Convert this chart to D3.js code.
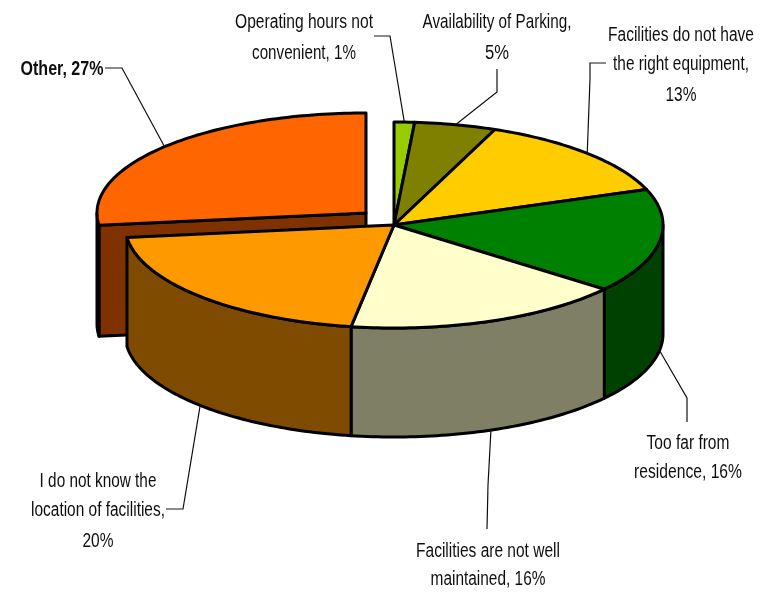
<!DOCTYPE html>
<html>
<head>
<meta charset="utf-8">
<style>html,body{margin:0;padding:0;background:#fff}svg{display:block}</style>
<script src="https://cdn.jsdelivr.net/npm/d3@7"></script>
</head>
<body>
<svg id="chart" width="775" height="592"></svg>
<script>
const categories = ["Operating hours not convenient","Availability of Parking","Facilities do not have the right equipment","Too far from residence","Facilities are not well maintained","I do not know the location of facilities","Other"];
const values = [1.2,4.8,13,16,16.5,20.1,26.4];
const percentLabels = ["1%","5%","13%","16%","16%","20%","27%"];
const labelLines = [
  ["Operating hours not","convenient, 1%"],
  ["Availability of Parking,","5%"],
  ["Facilities do not have","the right equipment,","13%"],
  ["Too far from","residence, 16%"],
  ["Facilities are not well","maintained, 16%"],
  ["I do not know the","location of facilities,","20%"],
  ["Other, 27%"]
];
const topColors = ["#99cc00","#808000","#ffcc00","#008000","#ffffcc","#ff9900","#ff6600"];
const sideColors = ["#4c6600","#404000","#7f6600","#004000","#7f7f66","#7f4c00","#7f3300"];

// layout
const G = {cx:394, cy:225, rx:269, ry:103, depth:109};
const E = {cx:366, cy:213, rx:269, ry:100, depth:111};
const explodedIndex = 6;
const labelLayout = [
  {x:304, ys:[28,59], ws:[138,104], elbows:[[390,36],[374,36]]},
  {x:497, ys:[28,59], ws:[149,24], elbows:[[497,92],[497,69]]},
  {x:681, ys:[41,70,101], ws:[146,136,31], elbows:[[590,79],[590,63],[606,63]]},
  {x:688, ys:[449,478], ws:[83,108], elbows:[[687,398],[687,422]]},
  {x:488, ys:[557,585], ws:[144,115], elbows:[[488,485],[487,529]]},
  {x:98,  ys:[487,516,547], ws:[117,134,31], elbows:[[183,509],[166,509]]},
  {x:62,  ys:[75], ws:[83], elbows:[[122,68],[105,68]], bold:true}
];

const svg = d3.select("#chart");
const defs = svg.append("defs");
defs.append("filter").attr("id","soft").append("feGaussianBlur").attr("stdDeviation",0.45);
const root = svg.append("g").attr("filter","url(#soft)");

const arcs = d3.pie().sort(null).value(d=>d)(values);
const xS = g => d3.scaleLinear().domain([-1,1]).range([g.cx-g.rx,g.cx+g.rx]);
const yS = g => d3.scaleLinear().domain([-1,1]).range([g.cy-g.ry,g.cy+g.ry]);
const pt = (g,a,dz=0) => [xS(g)(Math.sin(a)), yS(g)(-Math.cos(a))+dz];
const samples = (a0,a1) => { const n=Math.max(2,Math.ceil((a1-a0)/0.02)); return d3.range(n+1).map(i=>a0+(a1-a0)*i/n); };
const line = d3.line();

function topPath(g,d){
  const pts = samples(d.startAngle,d.endAngle).map(a=>pt(g,a));
  return line([[g.cx,g.cy],...pts])+"Z";
}
function sidePath(g,a0,a1){
  const s = samples(a0,a1);
  const upper = s.map(a=>pt(g,a));
  const lower = s.slice().reverse().map(a=>pt(g,a,g.depth));
  return line([...upper,...lower])+"Z";
}
const edge = sel => sel.attr("stroke","#000").attr("stroke-width",3).attr("stroke-linejoin","round");

// exploded slice
const ex = arcs[explodedIndex];
const eStart = pt(E,ex.startAngle);
edge(root.append("path")
  .attr("d",line([[E.cx,E.cy],eStart,[eStart[0],eStart[1]+E.depth],[E.cx,E.cy+E.depth]])+"Z")
  .attr("fill",sideColors[explodedIndex]));
edge(root.append("path").attr("d",sidePath(E,ex.startAngle,Math.min(ex.endAngle,1.5*Math.PI))).attr("fill",sideColors[explodedIndex]));
edge(root.append("path").attr("d",topPath(E,ex)).attr("fill",topColors[explodedIndex]));

// main pie sides (front half only)
arcs.forEach((d,i)=>{
  if(i===explodedIndex) return;
  const a0=Math.max(d.startAngle,Math.PI/2), a1=Math.min(d.endAngle,1.5*Math.PI);
  if(a1<=a0) return;
  edge(root.append("path").attr("d",sidePath(G,a0,a1)).attr("fill",sideColors[i]));
});
// main pie tops
arcs.forEach((d,i)=>{
  if(i===explodedIndex) return;
  edge(root.append("path").attr("d",topPath(G,d)).attr("fill",topColors[i]));
});

// leaders
arcs.forEach((d,i)=>{
  const g = i===explodedIndex?E:G;
  const mid=(d.startAngle+d.endAngle)/2;
  const front=Math.cos(mid)<0;
  const start=pt(g,mid,front?g.depth:0);
  root.append("path").attr("d",line([start,...labelLayout[i].elbows]))
    .attr("fill","none").attr("stroke","#111").attr("stroke-width",1.2);
});

// labels: condensed horizontally to the reference's line widths
labelLines.forEach((lines,i)=>{
  const L=labelLayout[i];
  lines.forEach((t,j)=>{
    const node = root.append("text").attr("text-anchor","middle")
      .attr("font-family","'Liberation Sans Narrow','Liberation Sans',Arial,sans-serif").attr("font-size",21)
      .attr("font-weight",L.bold?"bold":"normal").attr("fill","#111").text(t);
    const natural = node.node().getComputedTextLength();
    node.attr("transform",`translate(${L.x},${L.ys[j]}) scale(${L.ws[j]/natural},1)`);
  });
});
</script>
</body>
</html>
